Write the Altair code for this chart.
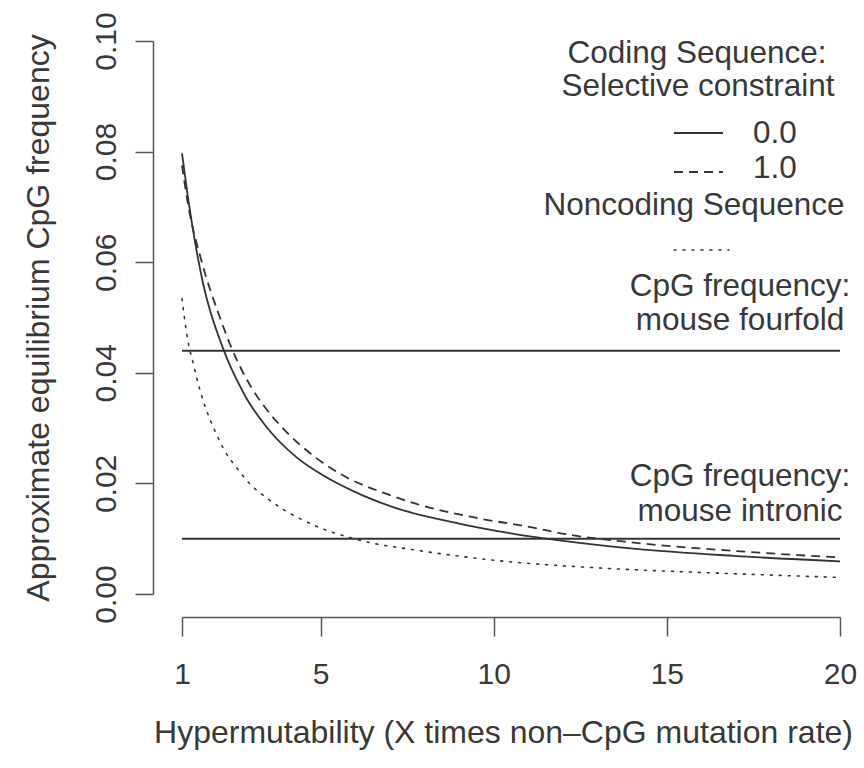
import altair as alt
import pandas as pd

# ---------------- data ----------------
x_ticks = [1, 5, 10, 15, 20]
y_ticks = [0.00, 0.02, 0.04, 0.06, 0.08, 0.10]

# Coding sequence, selective constraint 0.0 (solid)
coding0_x = [1.0, 1.17, 1.37, 1.61, 2.18, 2.43, 2.57, 2.86, 3.44, 4.31, 5.17,
             6.23, 7.20, 7.87, 9.03, 10.66, 12.01, 14.03, 16.93, 20.0]
coding0_y = [0.0797, 0.0718, 0.0639, 0.0561, 0.0445, 0.0407, 0.0389, 0.0354,
             0.0302, 0.0247, 0.0211, 0.0178, 0.0155, 0.0143, 0.0127, 0.0108,
             0.0096, 0.0082, 0.0069, 0.0059]

# Coding sequence, selective constraint 1.0 (dashed)
coding1_x = [1.0, 1.17, 1.56, 2.09, 2.43, 2.86, 3.39, 3.97, 4.79, 5.75, 6.91,
             7.87, 9.22, 11.14, 12.11, 14.03, 16.93, 20.0]
coding1_y = [0.0775, 0.0706, 0.0603, 0.0501, 0.0445, 0.0389, 0.0338, 0.0296,
             0.0250, 0.0211, 0.0181, 0.0161, 0.0141, 0.0120, 0.0108, 0.0093,
             0.0078, 0.0066]

# Noncoding sequence (dotted)
noncoding_x = [1.0, 1.08, 1.17, 1.32, 1.42, 1.61, 1.95, 2.23, 2.57, 2.96, 3.44,
               3.92, 4.45, 4.98, 5.85, 6.42, 7.58, 10.18, 13.07, 15.96, 20.0]
noncoding_y = [0.0534, 0.0495, 0.0458, 0.0418, 0.0392, 0.0350, 0.0295, 0.0259,
               0.0229, 0.0199, 0.0174, 0.0153, 0.0135, 0.0120, 0.0102, 0.0093,
               0.0081, 0.0060, 0.0047, 0.0039, 0.0030]

# Reference CpG frequencies (horizontal lines)
ref_names = ["mouse fourfold", "mouse intronic"]
ref_values = [0.044, 0.010]
ref_x_start = [1, 1]
ref_x_end = [20, 20]

# ---------------- styling ----------------
FONT = "Liberation Sans"
TXT = "#383838"
INK = "#333333"
AX = "#555555"
W, H = 658, 553
TEXT_SIZE = 31.5
TITLE_SIZE = 32
TICK_SIZE = 30
DASH = [9, 6]
DOT = [2, 7]

xs = alt.Scale(domain=[1, 20], nice=False, zero=False)
ys = alt.Scale(domain=[0, 0.10], nice=False, zero=False)

x_axis = alt.Axis(values=x_ticks, format="d", offset=23, tickSize=19,
                  labelPadding=23, labelFlush=False, titlePadding=28,
                  titleX=321, titleAlign="center", grid=False,
                  title="Hypermutability (X times non–CpG mutation rate)")
y_axis = alt.Axis(values=y_ticks, format=".2f", offset=29, tickSize=18,
                  labelAngle=270, labelAlign="center", labelBaseline="bottom",
                  labelPadding=14, labelFlush=False, titlePadding=36,
                  grid=False,
                  title="Approximate equilibrium CpG frequency")

def curve(xv, yv, dash):
    df = pd.DataFrame({"x": xv, "y": yv})
    kw = dict(color=INK, strokeWidth=1.8, interpolate="monotone")
    if dash:
        kw["strokeDash"] = dash
    if dash == DOT:
        kw["strokeWidth"] = 1.6
        kw["strokeCap"] = "round"
    return alt.Chart(df).mark_line(**kw).encode(
        x=alt.X("x:Q", scale=xs, axis=x_axis),
        y=alt.Y("y:Q", scale=ys, axis=y_axis),
    )

solid = curve(coding0_x, coding0_y, None)
dashed = curve(coding1_x, coding1_y, DASH)
dotted = curve(noncoding_x, noncoding_y, DOT)

ref_df = pd.DataFrame({"name": ref_names, "y": ref_values,
                       "x": ref_x_start, "x1": ref_x_end})
refs = alt.Chart(ref_df).mark_rule(color=INK, strokeWidth=2).encode(
    x=alt.X("x:Q", scale=xs, axis=x_axis), x2="x1:Q",
    y=alt.Y("y:Q", scale=ys, axis=y_axis))

one = pd.DataFrame({"a": [0]})

def label(text, x, y, align="center", size=TEXT_SIZE):
    return alt.Chart(one).mark_text(
        text=text, align=align, baseline="alphabetic", font=FONT,
        fontSize=size, color=TXT).encode(x=alt.value(x), y=alt.value(y))

def seg(x0, x1, y, dash=None, width=1.8):
    kw = dict(color=INK, strokeWidth=width)
    if dash:
        kw["strokeDash"] = dash
    if dash == DOT:
        kw["strokeCap"] = "round"
        kw["strokeWidth"] = 1.6
    return alt.Chart(one).mark_rule(**kw).encode(
        x=alt.value(x0), x2=alt.value(x1), y=alt.value(y))

legend = [
    label("Coding Sequence:", 515, 22),
    label("Selective constraint", 516, 55),
    seg(492, 541, 92),
    label("0.0", 571, 102, align="left"),
    seg(492, 541, 131, DASH),
    label("1.0", 571, 137, align="left"),
    label("Noncoding Sequence", 512, 174),
    seg(492, 547, 209, DOT),
    label("CpG frequency:", 558, 255),
    label("mouse fourfold", 558, 289),
    label("CpG frequency:", 558, 445),
    label("mouse intronic", 558, 480),
]

chart = alt.layer(solid, dashed, dotted, refs, *legend).properties(
    width=W, height=H,
    padding={"left": 182, "top": 41, "right": 24, "bottom": 174},
    autosize="none",
    background="white",
).configure_view(strokeWidth=0, stroke="transparent").configure_axis(
    domainColor=AX, tickColor=AX, domainWidth=1.5, tickWidth=1.5,
    labelFont=FONT, labelFontSize=TICK_SIZE, labelColor=TXT,
    titleFont=FONT, titleFontSize=TITLE_SIZE, titleColor=TXT,
    titleFontWeight="normal",
)

chart.save("out.html", embed_options={"renderer": "svg", "actions": False})
